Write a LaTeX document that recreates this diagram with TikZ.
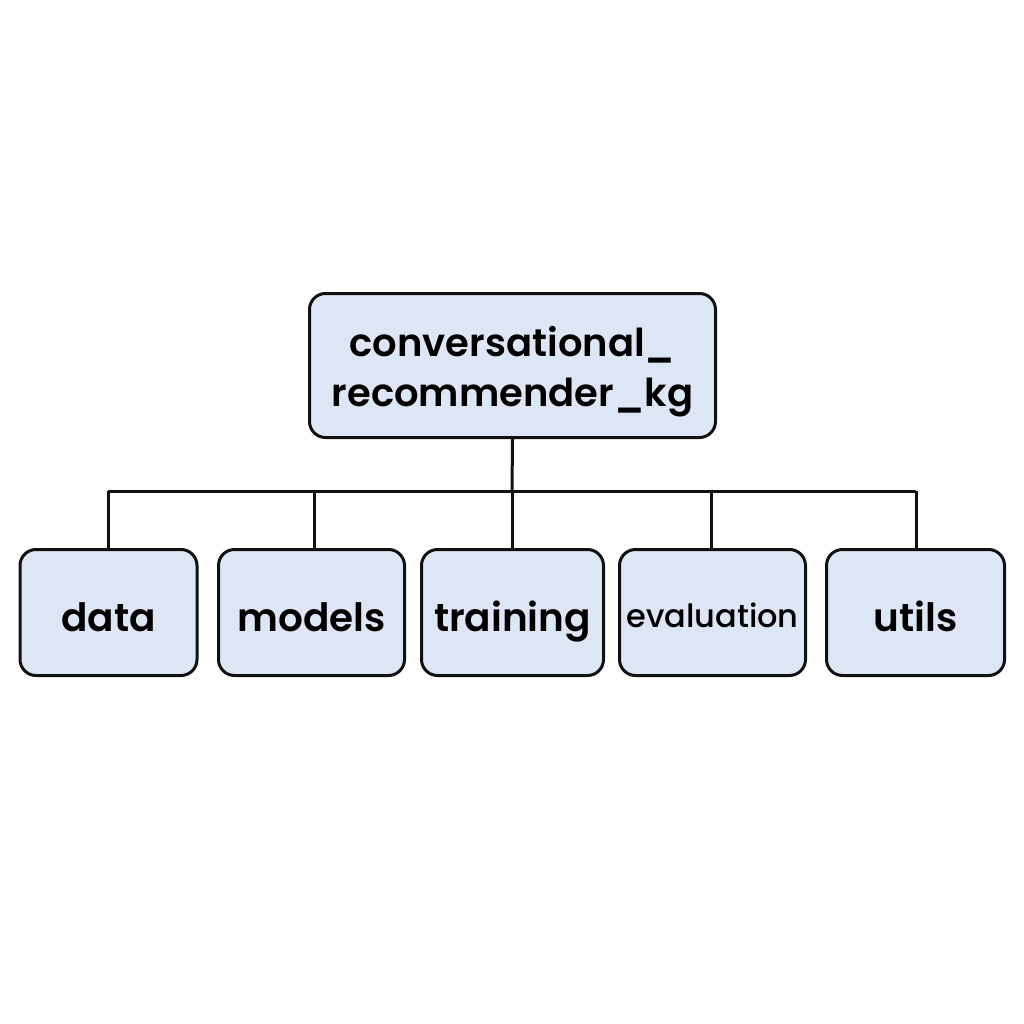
\documentclass[tikz,border=0pt]{standalone}
\usepackage{fontspec}
\setmainfont{Poppins}[BoldFont={* SemiBold}]
\newfontfamily\medfont{Poppins}[UprightFont={* Medium}]
\definecolor{boxfill}{HTML}{DCE6F4}
\definecolor{ink}{HTML}{111111}
\begin{document}
\begin{tikzpicture}[x=1pt,y=-1pt,
  box/.style={draw=ink,line width=3pt,fill=boxfill,rounded corners=16pt,inner sep=0pt,align=center},
  child/.style={box,minimum height=126pt,text height=42pt,text depth=5pt,font=\fontsize{39}{46}\selectfont\bfseries},
  conn/.style={draw=ink,line width=3pt}]
\useasboundingbox (0,0) rectangle (1024,1024);
\node[box,minimum width=406pt,minimum height=144pt] (root) at (512.5,365.5) {};
\node[inner sep=0pt,align=center,font=\fontsize{38.5}{50}\selectfont\bfseries] (roottext) at (512.5,371.5) {conversational\_\\recommender\_kg};
\node[child,minimum width=177pt] (data) at (108.5,612.5) {data};
\node[child,minimum width=186pt] (models) at (311.5,612.5) {models};
\node[child,minimum width=182pt] (training) at (512.5,612.5) {training};
\node[child,minimum width=186pt,text height=38pt,text depth=9pt,font=\fontsize{32}{38}\selectfont\medfont] (evaluation) at (712.5,612.5) {evaluation};
\node[child,minimum width=178pt] (utils) at (915.5,612.5) {utils};
\coordinate (bus) at (512,491);
\draw[conn] (root.south) -- (bus);
\draw[conn] (108,491) -- (916,491);
\foreach \n/\x in {data/108,models/314,training/512,evaluation/711,utils/916}
  \draw[conn] (\x,491) -- (\n.north -| \x,0);
\end{tikzpicture}
\end{document}
